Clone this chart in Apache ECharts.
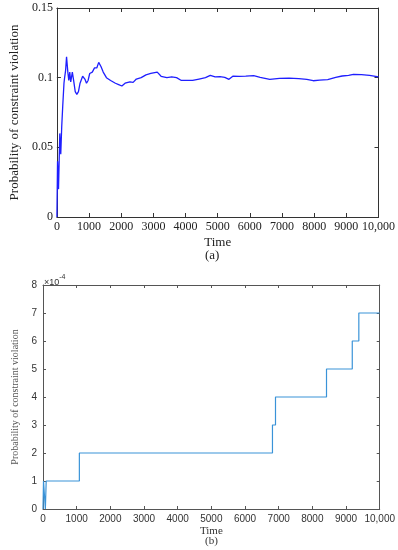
<!DOCTYPE html>
<html><head><meta charset="utf-8">
<script src="https://cdn.jsdelivr.net/npm/echarts@6/dist/echarts.min.js"></script>
<style>html,body{margin:0;padding:0;background:#fff}#c{width:398px;height:550px}</style>
</head><body><div id="c"></div>
<script>
// Panel (a): probability of constraint violation over time
const timeA = [0,20,50,90,120,150,180,220,240,270,300,340,370,400,430,480,520,570,620,670,720,800,870,920,970,1020,1100,1170,1240,1300,1370,1440,1540,1670,1820,1920,2020,2120,2270,2370,2470,2620,2770,2920,3120,3240,3420,3570,3720,3870,4020,4220,4420,4620,4770,4920,5070,5220,5350,5470,5670,5870,6120,6320,6620,6920,7220,7520,7770,7970,8170,8420,8670,8870,9070,9220,9470,9720,10000];
const probA = [0,0.040,0.020,0.060,0.045,0.065,0.079,0.096,0.100,0.105,0.115,0.104,0.098,0.104,0.097,0.104,0.098,0.090,0.088,0.090,0.096,0.101,0.099,0.096,0.098,0.103,0.104,0.107,0.107,0.111,0.108,0.104,0.100,0.098,0.096,0.095,0.094,0.096,0.097,0.0966,0.099,0.100,0.102,0.103,0.104,0.101,0.100,0.1005,0.100,0.098,0.098,0.098,0.099,0.100,0.1017,0.1005,0.1007,0.1002,0.0988,0.101,0.1009,0.1011,0.1014,0.1002,0.0988,0.0995,0.0997,0.0993,0.0988,0.0978,0.0983,0.0986,0.1002,0.1012,0.1017,0.1024,0.1022,0.1017,0.1005];
// Panel (b): step-wise probability (x 1e-4)
const timeB = [0,15,70,95,1080,6815,6905,8420,9185,9380,10000];
const probB = [0,1,0,1,2,3,4,5,6,7,7];

const serif = 'Liberation Serif';
const sans = 'Liberation Sans';
const fmtX = v => v === 10000 ? '10,000' : String(v);

const chart = echarts.init(document.getElementById('c'));
const axisA = '#333';
const axisB = '#555';
function line(c) { return {show: true, onZero: false, lineStyle: {color: c, width: 1}}; }
chart.setOption({
  animation: false,
  grid: [
    {left: 46, top: 8, width: 333, height: 209},
    {left: 43, top: 285, width: 339, height: 224}
  ],
  xAxis: [
    {gridIndex: 0, type: 'value', min: 0, max: 10000, interval: 1000, position: 'bottom',
     axisLine: line(axisA), axisTick: {inside: true, length: 4, lineStyle: {color: axisA}},
     axisLabel: {fontFamily: serif, fontSize: 12, color: '#222', margin: 4, formatter: fmtX},
     splitLine: {show: false},
     name: 'Time', nameLocation: 'middle', nameGap: 19, nameTextStyle: {fontFamily: serif, fontSize: 13, color: '#222'}},
    {gridIndex: 0, type: 'value', min: 0, max: 10000, interval: 1000, position: 'top',
     axisLine: line(axisA), axisTick: {inside: true, length: 4, lineStyle: {color: axisA}},
     axisLabel: {show: false}, splitLine: {show: false}},
    {gridIndex: 1, type: 'value', min: 0, max: 10000, interval: 1000, position: 'bottom',
     axisLine: line(axisB), axisTick: {inside: true, length: 3, lineStyle: {color: axisB}},
     axisLabel: {fontFamily: sans, fontSize: 10, color: '#333', margin: 5, formatter: fmtX},
     splitLine: {show: false},
     name: 'Time', nameLocation: 'middle', nameGap: 17, nameTextStyle: {fontFamily: serif, fontSize: 11, color: '#333'}},
    {gridIndex: 1, type: 'value', min: 0, max: 10000, interval: 1000, position: 'top',
     axisLine: line(axisB), axisTick: {inside: true, length: 3, lineStyle: {color: axisB}},
     axisLabel: {show: false}, splitLine: {show: false}}
  ],
  yAxis: [
    {gridIndex: 0, type: 'value', min: 0, max: 0.15, interval: 0.05, position: 'left',
     axisLine: line(axisA), axisTick: {show: true, inside: true, length: 4, lineStyle: {color: axisA}},
     axisLabel: {fontFamily: serif, fontSize: 12, color: '#222', margin: 4},
     splitLine: {show: false},
     name: 'Probability of constraint violation', nameLocation: 'middle', nameGap: 30,
     nameTextStyle: {fontFamily: serif, fontSize: 13, color: '#222'}},
    {gridIndex: 0, type: 'value', min: 0, max: 0.15, interval: 0.05, position: 'right',
     axisLine: line(axisA), axisTick: {show: true, inside: true, length: 4, lineStyle: {color: axisA}},
     axisLabel: {show: false}, splitLine: {show: false}},
    {gridIndex: 1, type: 'value', min: 0, max: 8, interval: 1, position: 'left',
     axisLine: line(axisB), axisTick: {show: true, inside: true, length: 3, lineStyle: {color: axisB}},
     axisLabel: {fontFamily: sans, fontSize: 10, color: '#333', margin: 6},
     splitLine: {show: false},
     name: 'Probability of constraint violation', nameLocation: 'middle', nameGap: 16,
     nameTextStyle: {fontFamily: serif, fontSize: 10, color: '#555'}},
    {gridIndex: 1, type: 'value', min: 0, max: 8, interval: 1, position: 'right',
     axisLine: line(axisB), axisTick: {show: true, inside: true, length: 3, lineStyle: {color: axisB}},
     axisLabel: {show: false}, splitLine: {show: false}}
  ],
  series: [
    {type: 'line', xAxisIndex: 0, yAxisIndex: 0, showSymbol: false, symbol: 'none',
     data: timeA.map((t, i) => [t, probA[i]]),
     lineStyle: {color: '#1f1fff', width: 1.3}},
    {type: 'line', xAxisIndex: 2, yAxisIndex: 2, showSymbol: false, symbol: 'none', step: 'end',
     data: timeB.map((t, i) => [t, probB[i]]),
     lineStyle: {color: '#3a93d8', width: 1.2}}
  ],
  graphic: [
    {type: 'text', left: 205, top: 249, style: {text: '(a)', font: '13px "Liberation Serif"', fill: '#222'}},
    {type: 'text', left: 205, top: 536, style: {text: '(b)', font: '11px "Liberation Serif"', fill: '#333'}},
    {type: 'text', left: 44, top: 274, style: {
      text: '{a|×10}{b|-4}', rich: {
        a: {fontFamily: sans, fontSize: 9, fill: '#333', padding: [4, 0, 0, 0]},
        b: {fontFamily: sans, fontSize: 7, fill: '#333', verticalAlign: 'top'}
      }}}
  ]
});
</script></body></html>
